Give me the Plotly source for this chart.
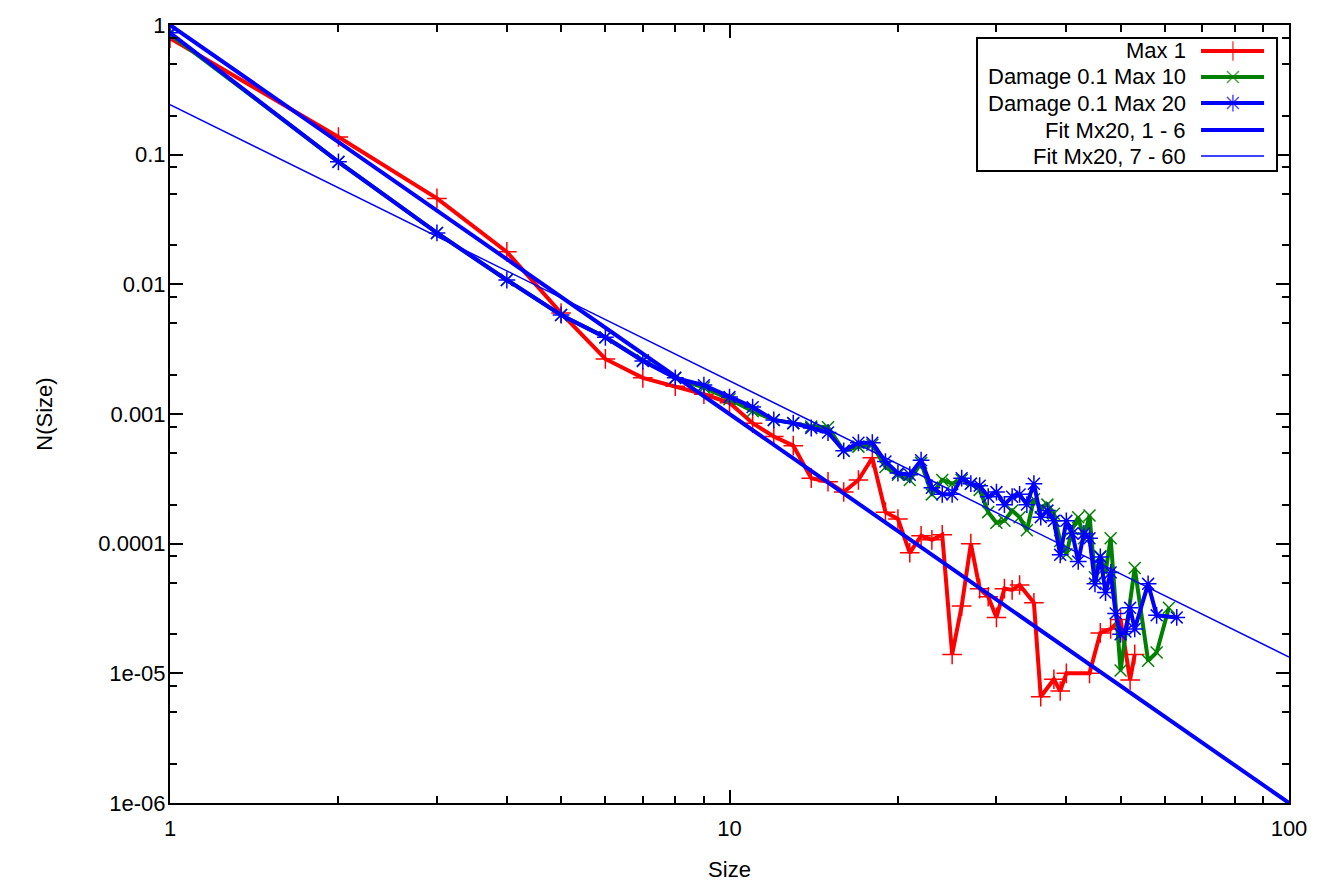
import numpy as np
import plotly.graph_objects as go

# Max 1
size_max1 = list(range(1, 34)) + [35, 36, 38, 39, 40, 44, 46, 48, 50, 52, 53]
n_max1 = [0.79, 0.137, 0.046, 0.0178, 0.0060, 0.00266, 0.0019, 0.00164, 0.00142, 0.00122,
          0.00085, 0.00067, 0.00057, 0.00032, 0.00030, 0.00025, 0.00031, 0.00046, 0.000175, 0.000155,
          8.5e-5, 1.15e-4, 1.07e-4, 1.17e-4, 1.4e-5, 3.3e-5, 1.0e-4, 4.5e-5, 3.9e-5, 2.7e-5,
          4.5e-5, 4.4e-5, 4.8e-5, 3.5e-5, 6.6e-6, 9.0e-6, 7.3e-6, 1.0e-5, 1.0e-5, 2.05e-5,
          2.2e-5, 2.6e-5, 8.9e-6, 1.4e-5]

# Damage 0.1 Max 10
size_mx10 = list(range(1, 49)) + [50, 53, 56, 58, 61]
n_mx10 = [0.85, 0.088, 0.0249, 0.0108, 0.0058, 0.0039, 0.0026, 0.0019, 0.0016, 0.0013,
          0.00105, 0.0009, 0.00085, 0.0008, 0.00079, 0.00052, 0.00056, 0.00058, 0.00039, 0.00034,
          0.00031, 0.00042, 0.00024, 0.00031, 0.00029, 0.00031, 0.00029, 0.00026, 1.75e-4, 1.45e-4,
          1.5e-4, 1.8e-4, 1.6e-4, 1.27e-4, 2.2e-4, 1.9e-4, 2.0e-4, 1.7e-4, 1.05e-4, 8.3e-5,
          1.3e-4, 1.6e-4, 1.1e-4, 1.65e-4, 5.5e-5, 8.0e-5, 6.0e-5, 1.1e-4,
          1.05e-5, 6.5e-5, 1.25e-5, 1.45e-5, 3.2e-5]

# Damage 0.1 Max 20
size_mx20 = list(range(1, 54)) + [56, 58, 63]
n_mx20 = [0.87, 0.088, 0.0249, 0.0108, 0.0058, 0.0039, 0.00256, 0.0019, 0.00167, 0.00135,
          0.00113, 0.0009, 0.00085, 0.00078, 0.00072, 0.00052, 0.0006, 0.0006, 0.00043, 0.00035,
          0.00034, 0.00044, 0.00027, 0.00024, 0.00024, 0.00032, 0.00029, 0.00028, 0.00023, 0.00025,
          0.0002, 0.00023, 0.00024, 0.0002, 0.00029, 0.00016, 0.00018, 0.00015, 8.2e-5, 0.00015,
          0.00012, 7.3e-5, 0.00012, 0.00011, 4.9e-5, 7.9e-5, 4.2e-5, 6.0e-5, 2.9e-5, 2.0e-5,
          2.1e-5, 3.2e-5, 2.2e-5, 4.9e-5, 2.8e-5, 2.7e-5]

# power law fits N = a * s^b
fit_1_6 = [1.0, -3.0]
fit_7_60 = [0.243, -2.13]

legend_names = ["Max 1", "Damage 0.1 Max 10", "Damage 0.1 Max 20", "Fit Mx20, 1 - 6", "Fit Mx20, 7 - 60"]

FONT = "Liberation Sans, Arial, sans-serif"
FS = 22

fig = go.Figure()

fig.add_trace(go.Scatter(x=size_max1, y=n_max1, mode="lines+markers",
                         line=dict(color="#ff0000", width=4),
                         marker=dict(symbol="cross-thin", size=14, line=dict(color="#ff0000", width=1.5))))
fig.add_trace(go.Scatter(x=size_mx10, y=n_mx10, mode="lines+markers",
                         line=dict(color="#008000", width=4),
                         marker=dict(symbol="x-thin", size=12, line=dict(color="#008000", width=1.5))))
fig.add_trace(go.Scatter(x=size_mx20, y=n_mx20, mode="lines+markers",
                         line=dict(color="#0000ff", width=4),
                         marker=dict(symbol="asterisk-open", size=14, line=dict(color="#0000ff", width=1.5))))

s = np.logspace(0, 2, 60)
fig.add_trace(go.Scatter(x=s, y=fit_1_6[0] * s ** fit_1_6[1], mode="lines",
                         line=dict(color="#0000ff", width=4)))
fig.add_trace(go.Scatter(x=s, y=fit_7_60[0] * s ** fit_7_60[1], mode="lines",
                         line=dict(color="#0000ff", width=1.5)))

# hand made gnuplot style legend (samples on the right of the text)
lx0, lx1, lxm = 0.9214, 0.9777, 0.9499
rows = [0.9666, 0.9332, 0.8997, 0.8650, 0.8316]
styles = [
    dict(color="#ff0000", width=4, sym="cross-thin", size=14),
    dict(color="#008000", width=4, sym="x-thin", size=12),
    dict(color="#0000ff", width=4, sym="asterisk-open", size=14),
    dict(color="#0000ff", width=4, sym=None, size=0),
    dict(color="#0000ff", width=1.5, sym=None, size=0),
]
for name, ry, st in zip(legend_names, rows, styles):
    fig.add_trace(go.Scatter(
        x=[lx0, lxm, lx1], y=[ry, ry, ry], xaxis="x2", yaxis="y2",
        mode="lines+markers" if st["sym"] else "lines",
        line=dict(color=st["color"], width=st["width"]),
        marker=dict(symbol=st["sym"] or "circle", size=[0, st["size"], 0],
                    line=dict(color=st["color"], width=1.5)),
    ))
    fig.add_annotation(x=0.9097, y=ry, xref="paper", yref="paper", text=name,
                       showarrow=False, xanchor="right", yanchor="middle",
                       font=dict(family=FONT, size=FS, color="black"))

fig.add_shape(type="rect", xref="paper", yref="paper", x0=0.7212, x1=0.9893, y0=0.8123, y1=0.9833,
              line=dict(color="black", width=2), fillcolor="white", layer="below")

x_major = [1, 10, 100]
x_minor = [m * 10 ** k for k in range(0, 2) for m in range(2, 10)]
y_major = [10.0 ** k for k in range(-6, 1)]
y_labels = ["1e-06", "1e-05", "0.0001", "0.001", "0.01", "0.1", "1"]
y_minor = [m * 10.0 ** k for k in range(-6, 0) for m in (2, 5, 8)]

axis_common = dict(type="log", showgrid=False, zeroline=False, showline=True, linecolor="black",
                   linewidth=2, mirror="allticks", ticks="inside", ticklen=13, tickwidth=1.5,
                   tickcolor="black", automargin=False,
                   tickfont=dict(family=FONT, size=FS, color="black"))

# page body has an 8px margin, so the margins are shifted to compensate
fig.update_layout(
    width=1334, height=889,
    margin=dict(l=162, r=53, t=17, b=94),
    paper_bgcolor="white", plot_bgcolor="white",
    showlegend=False,
    font=dict(family=FONT, size=FS, color="black"),
    xaxis=dict(axis_common, range=[0, 2], tickvals=x_major, ticktext=["1", "10", "100"],
               ticklabelstandoff=5,
               minor=dict(tickvals=x_minor, ticks="inside", ticklen=7, tickwidth=1.5, tickcolor="black"),
               title=dict(text="Size", standoff=21, font=dict(family=FONT, size=FS))),
    yaxis=dict(axis_common, range=[-6, 0], tickvals=y_major, ticktext=y_labels, ticklabelstandoff=-2,
               minor=dict(tickvals=y_minor, ticks="inside", ticklen=7, tickwidth=1.5, tickcolor="black"),
               title=dict(text="N(Size)", standoff=40, font=dict(family=FONT, size=FS))),
    xaxis2=dict(overlaying="x", range=[0, 1], visible=False),
    yaxis2=dict(overlaying="y", range=[0, 1], visible=False),
)

fig.write_html("out.html")
